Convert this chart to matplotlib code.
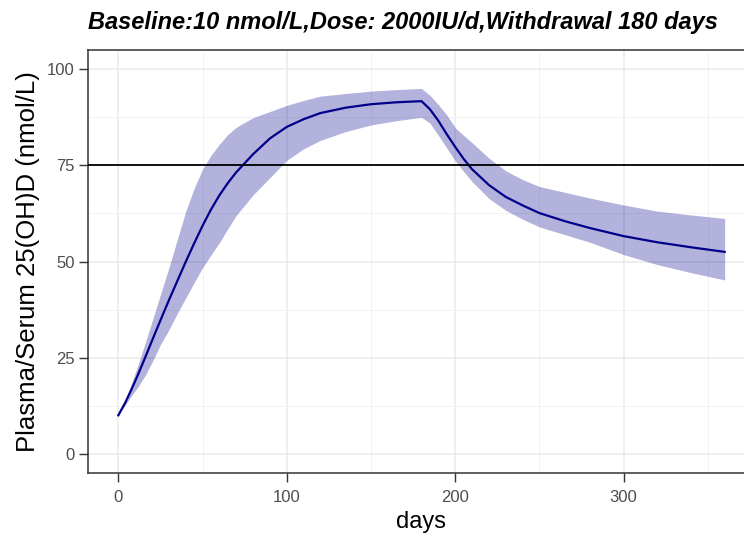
import matplotlib
matplotlib.use("Agg")
import matplotlib.pyplot as plt
from matplotlib.ticker import MultipleLocator

# values
days = [0, 4, 8, 12, 16, 20, 25, 30, 35, 40, 45, 50, 55, 60, 65, 70, 80, 90,
        100, 110, 120, 135, 150, 165, 180, 185, 190, 195, 200, 205, 210, 220,
        230, 240, 250, 265, 280, 300, 320, 340, 360]
conc_mean = [10, 13.2, 16.9, 20.9, 25.1, 29.4, 34.7, 39.9, 44.9, 49.9, 54.7, 59.3,
             63.5, 67.2, 70.4, 73.2, 77.9, 82.0, 85.0, 87.0, 88.6, 90.0, 90.9,
             91.4, 91.7, 89.6, 86.6, 83.1, 79.8, 76.7, 74.0, 69.9, 66.8, 64.6,
             62.6, 60.5, 58.7, 56.6, 55.0, 53.7, 52.5]
conc_upper = [10, 13.8, 18.5, 23.5, 28.9, 34.4, 41.4, 48.3, 55.7, 63.0, 69.0, 74.0,
              77.6, 80.5, 83.0, 84.9, 87.4, 89.0, 90.6, 91.9, 93.0, 93.7, 94.3,
              94.7, 95.0, 93.2, 90.8, 88.1, 84.8, 82.8, 80.9, 76.9, 73.6, 71.3,
              69.5, 68.0, 66.5, 64.7, 63.1, 62.1, 61.2]
conc_lower = [10, 12.6, 15.2, 17.6, 20.4, 23.8, 28.4, 32.2, 36.5, 40.5, 44.5, 48.4,
              51.7, 54.9, 58.5, 62.0, 67.3, 71.8, 76.3, 79.3, 81.5, 83.8, 85.5,
              86.6, 87.5, 86.0, 82.8, 79.5, 76.2, 73.4, 70.8, 66.4, 63.3, 61.0,
              59.0, 57.0, 55.0, 51.8, 49.2, 47.1, 45.2]
target = 75

title = "Baseline:10 nmol/L,Dose: 2000IU/d,Withdrawal 180 days"

plt.rcParams['font.family'] = ['Liberation Sans', 'DejaVu Sans']

fig = plt.figure(figsize=(7.44, 5.4), dpi=100)
# panel runs off the right edge, as in the reference
ax = fig.add_axes([88 / 744, 67 / 540, 667 / 744, 423 / 540])

ax.fill_between(days, conc_lower, conc_upper, color='darkblue', alpha=0.3,
                linewidth=0, zorder=2)
ax.plot(days, conc_mean, color='darkblue', linewidth=1.6, zorder=3)
ax.axhline(target, color='black', linewidth=1.3, zorder=4)

ax.set_xlim(-18, 378)
ax.set_ylim(-5, 105)
ax.xaxis.set_major_locator(MultipleLocator(100))
ax.xaxis.set_minor_locator(MultipleLocator(50))
ax.yaxis.set_major_locator(MultipleLocator(25))
ax.yaxis.set_minor_locator(MultipleLocator(12.5))

ax.grid(which='major', color='#ebebeb', linewidth=1.1, zorder=0)
ax.grid(which='minor', color='#f2f2f2', linewidth=0.7, zorder=0)
ax.set_axisbelow(True)

for s in ax.spines.values():
    s.set_color('#333333')
    s.set_linewidth(1.1)

ax.tick_params(which='major', length=6.5, width=1.0, color='#333333',
               labelcolor='#4d4d4d', labelsize=12, pad=3)
ax.tick_params(axis='x', pad=6)
ax.tick_params(which='minor', length=0)

ax.set_xlabel('days', fontsize=17, color='black', labelpad=4)
ax.set_ylabel('Plasma/Serum 25(OH)D (nmol/L)', fontsize=18.5, color='black', labelpad=5)

fig.text(88 / 744, 1 - 29 / 540, title, fontsize=17, fontweight='bold',
         fontstyle='italic', ha='left', va='baseline')

fig.savefig('out.png', dpi=100)
